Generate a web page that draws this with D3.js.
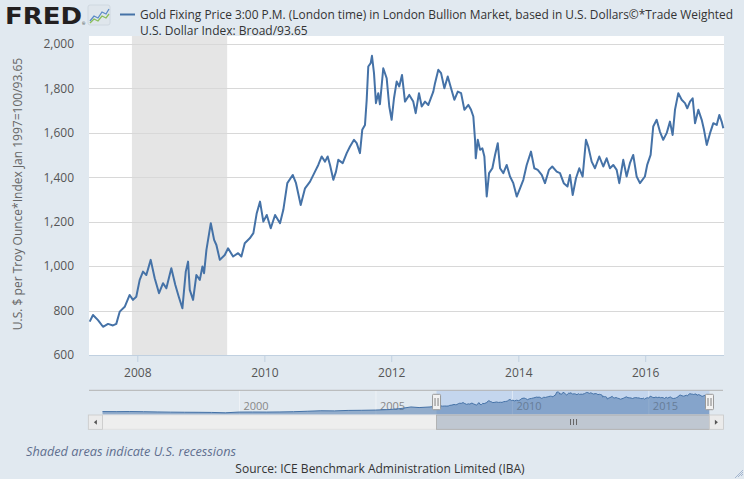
<!DOCTYPE html>
<html><head><meta charset="utf-8">
<script src="https://cdn.jsdelivr.net/npm/d3@7"></script>
<style>
body{margin:0;background:#e1e9f0;}
svg{display:block;font-family:"Open Sans",sans-serif;}
</style>
</head><body>
<svg id="c" width="744" height="479"></svg>
<script>
// ---- data (decimal year, value) ----
const dates = [2007.250,2007.302,2007.381,2007.460,2007.539,2007.617,2007.669,2007.723,2007.802,2007.880,2007.932,2007.984,
2008.038,2008.090,2008.142,2008.211,2008.274,2008.342,2008.405,2008.457,2008.535,2008.598,2008.652,2008.709,2008.762,2008.798,2008.825,2008.877,2008.929,2008.983,
2009.024,2009.050,2009.087,2009.156,2009.208,2009.244,2009.298,2009.376,2009.428,2009.507,2009.586,2009.638,2009.691,2009.770,2009.827,2009.880,2009.932,2009.984,
2010.038,2010.101,2010.169,2010.247,2010.299,2010.362,2010.447,2010.499,2010.573,2010.641,2010.720,2010.798,2010.850,2010.904,2010.956,2010.998,
2011.035,2011.087,2011.129,2011.165,2011.235,2011.298,2011.350,2011.413,2011.455,2011.507,2011.543,2011.586,2011.613,2011.638,2011.676,2011.696,2011.728,2011.759,2011.795,2011.822,2011.874,2011.928,2011.969,
2012.006,2012.043,2012.085,2012.126,2012.169,2012.216,2012.283,2012.346,2012.384,2012.436,2012.479,2012.531,2012.583,2012.661,2012.688,2012.740,2012.783,2012.835,2012.888,2012.940,2012.992,
2013.046,2013.098,2013.150,2013.213,2013.255,2013.291,2013.318,2013.329,2013.361,2013.397,2013.433,2013.465,2013.502,2013.539,2013.591,2013.633,2013.676,2013.712,2013.764,2013.817,2013.869,2013.921,2013.975,
2014.027,2014.079,2014.132,2014.200,2014.252,2014.306,2014.369,2014.420,2014.483,2014.535,2014.605,2014.657,2014.716,2014.775,2014.814,2014.857,2014.909,2014.961,
2015.014,2015.066,2015.102,2015.156,2015.208,2015.276,2015.339,2015.392,2015.444,2015.496,2015.550,2015.591,2015.654,2015.707,2015.759,2015.811,2015.865,2015.917,2015.995,
2016.031,2016.085,2016.126,2016.180,2016.231,2016.283,2016.337,2016.389,2016.431,2016.468,2016.520,2016.573,2016.625,2016.661,2016.704,2016.746,2016.783,2016.835,2016.888,2016.924,2016.967,
2017.019,2017.071,2017.124,2017.165,2017.202,2017.228];
const values = [750,780,757,727,740,733,740,795,817,870,848,862,
938,975,960,1028,945,878,923,900,990,915,862,810,975,1020,893,848,960,938,
998,968,1073,1193,1118,1095,1028,1050,1080,1043,1058,1043,1103,1125,1148,1238,1290,1200,
1230,1170,1230,1193,1253,1373,1410,1373,1275,1350,1380,1425,1455,1493,1470,1493,
1455,1388,1425,1478,1463,1508,1538,1568,1553,1508,1613,1635,1748,1898,1913,1946,1868,1733,1778,1728,1890,1845,1718,
1658,1755,1830,1808,1860,1740,1770,1740,1688,1778,1718,1740,1725,1785,1823,1883,1868,1800,1853,1800,1748,
1785,1778,1703,1725,1703,1673,1568,1485,1568,1523,1530,1493,1313,1418,1440,1500,1553,1440,1418,1455,1403,1373,1313,
1350,1388,1455,1515,1440,1433,1410,1373,1433,1448,1425,1418,1373,1358,1410,1320,1395,1440,
1403,1568,1538,1470,1440,1493,1448,1485,1440,1455,1433,1373,1478,1403,1463,1500,1403,1373,1403,
1455,1500,1628,1658,1605,1568,1598,1650,1590,1703,1778,1748,1733,1710,1740,1755,1643,1703,1658,1613,1545,
1598,1643,1635,1680,1650,1620];

// earlier history shown only in the navigator
const navDates = [1995.0,1995.5,1996.0,1996.5,1997.0,1997.5,1998.0,1998.5,1999.0,1999.5,2000.0,2000.5,2001.0,2001.5,2002.0,2002.5,2003.0,2003.5,2004.0,2004.5,2005.0,2005.5,2005.9,2006.3,2006.6,2007.0,2007.2];
const navValues = [270,265,275,260,240,225,215,210,200,170,230,235,230,240,260,300,340,330,370,380,400,440,520,660,610,660,720];

const recessions = [["2007-12-01","2009-06-01"]];
const yTicks = [600,800,1000,1200,1400,1600,1800,2000];
const xTickYears = [2008,2010,2012,2014,2016];
const navTickYears = [2000,2005,2010,2015];

const titleLine1 = "Gold Fixing Price 3:00 P.M. (London time) in London Bullion Market, based in U.S. Dollars©*Trade Weighted";
const titleLine2 = "U.S. Dollar Index: Broad/93.65";
const yTitle = "U.S. $ per Troy Ounce*Index Jan 1997=100/93.65";

// ---- helpers ----
function decToDate(d){const y=Math.floor(d);const s=new Date(y,0,1),e=new Date(y+1,0,1);return new Date(+s+(d-y)*(e-s));}
const series = dates.map((d,i)=>({date:decToDate(d),value:values[i]}));
const navSeries = navDates.map((d,i)=>({date:decToDate(d),value:navValues[i]})).concat(series);

const svg = d3.select("#c");
const W=744,H=479;
const L=89,R=724,T=36,B=355;
const lineColor="#4572a7";

// ---- scales ----
const x = d3.scaleTime().domain([decToDate(2007.239),decToDate(2017.239)]).range([L,R]);
const y = d3.scaleLinear().domain([600,2000]).range([B,43.8]);

// background
svg.append("rect").attr("width",W).attr("height",H).attr("fill","#e1e9f0");
// plot area
svg.append("rect").attr("x",L).attr("y",T).attr("width",R-L).attr("height",B-T).attr("fill","#ffffff");
// recessions
svg.append("g").selectAll("rect").data(recessions).join("rect")
  .attr("x",d=>x(new Date(d[0]))).attr("y",T)
  .attr("width",d=>x(new Date(d[1]))-x(new Date(d[0]))).attr("height",B-T)
  .attr("fill","#e5e5e5");
// gridlines
svg.append("g").selectAll("line").data(yTicks.filter(v=>v>600)).join("line")
  .attr("x1",L).attr("x2",R).attr("y1",d=>Math.round(y(d))+0.5).attr("y2",d=>Math.round(y(d))+0.5)
  .attr("stroke","#d8d8d8").attr("stroke-width",1);

// y axis
const yAxis = svg.append("g").attr("transform",`translate(${L},0)`)
  .call(d3.axisLeft(y).tickValues(yTicks).tickFormat(d3.format(",")).tickSize(0).tickPadding(15));
yAxis.select(".domain").remove();
yAxis.selectAll("text").attr("fill","#555").attr("font-size","12px").attr("font-family","'Open Sans',sans-serif").attr("dy","0.32em");

// x axis
const xAxis = svg.append("g").attr("transform",`translate(0,${B})`)
  .call(d3.axisBottom(x).tickValues(xTickYears.map(v=>new Date(v,0,1))).tickFormat(d3.timeFormat("%Y")).tickSize(7).tickPadding(6));
xAxis.select(".domain").attr("stroke","#c0d0e0").attr("d",`M${L},0.5H${R}`);
xAxis.selectAll(".tick line").attr("stroke","#c0d0e0");
xAxis.selectAll("text").attr("fill","#555").attr("font-size","12px").attr("font-family","'Open Sans',sans-serif");

// series line
svg.append("path").datum(series)
  .attr("d",d3.line().x(d=>x(d.date)).y(d=>y(d.value)))
  .attr("fill","none").attr("stroke",lineColor).attr("stroke-width",2).attr("stroke-linejoin","round");

// y title
svg.append("text").attr("transform","translate(22,194) rotate(-90)")
  .attr("text-anchor","middle").attr("font-size","12px").attr("fill","#666").text(yTitle);

// ---- header ----
svg.append("text").attr("x",5).attr("y",24).attr("font-family","'DejaVu Sans',sans-serif").attr("font-weight","bold")
  .attr("font-size","23px").attr("fill","#231f20").attr("textLength",77).attr("lengthAdjust","spacingAndGlyphs").text("FRED");
svg.append("text").attr("x",82).attr("y",25).attr("font-size","4px").attr("fill","#231f20").text("®");
// icon
const ic = svg.append("g").attr("transform","translate(88,5)");
ic.append("rect").attr("width",22).attr("height",20).attr("rx",2).attr("fill","#dfe6ec").attr("stroke","#cfd8e0");
ic.append("polyline").attr("points","2,16 6,11 10,13 14,7 18,9 21,4").attr("fill","none").attr("stroke","#5b8bc7").attr("stroke-width",1.3);
ic.append("polyline").attr("points","2,18 6,14 10,16 14,11 18,13 21,9").attr("fill","none").attr("stroke","#8bbf5b").attr("stroke-width",1.3);

// legend
svg.append("line").attr("x1",120).attr("x2",135).attr("y1",14.5).attr("y2",14.5).attr("stroke",lineColor).attr("stroke-width",2);
svg.append("text").attr("x",140).attr("y",18.5).attr("font-size","12px").attr("fill","#333")
  .attr("textLength",593).attr("lengthAdjust","spacingAndGlyphs").text(titleLine1);
svg.append("text").attr("x",140).attr("y",35).attr("font-size","12px").attr("fill","#333").text(titleLine2);

// ---- navigator ----
const NL=102.5, NR=709.5, NT=390.3, NB=414.8;
const nx = d3.scaleTime().domain([decToDate(1995.0),decToDate(2017.239)]).range([NL,NR]);
const ny = d3.scaleLinear().domain([0,1946]).range([NB,391.7]);
const selL = nx(x.domain()[0]), selR = nx(x.domain()[1]);
// selected mask
svg.append("rect").attr("x",selL).attr("y",NT).attr("width",selR-selL).attr("height",NB-NT).attr("fill","#c4d6ee");
// nav gridlines + labels
const navAxis = svg.append("g").attr("transform",`translate(0,${NB})`)
  .call(d3.axisTop(nx).tickValues(navTickYears.map(v=>new Date(v,0,1))).tickFormat(d3.timeFormat("%Y")).tickSize(NB-NT));
navAxis.select(".domain").remove();
navAxis.selectAll(".tick line").attr("stroke","#ffffff").attr("stroke-opacity",0.45);
navAxis.selectAll("text").attr("x",4).attr("y",-5).attr("text-anchor","start").attr("fill","#888").attr("font-size","11px").attr("font-family","'Open Sans',sans-serif");
// nav area
svg.append("path").datum(navSeries)
  .attr("d",d3.area().x(d=>nx(d.date)).y0(NB).y1(d=>ny(d.value)))
  .attr("fill",lineColor).attr("fill-opacity",0.5);
svg.append("path").datum(navSeries)
  .attr("d",d3.line().x(d=>nx(d.date)).y(d=>ny(d.value)))
  .attr("fill","none").attr("stroke",lineColor).attr("stroke-width",1);
// outline
svg.append("line").attr("x1",89).attr("x2",723).attr("y1",NT).attr("y2",NT).attr("stroke","#b2b2b2");
// scrollbar
const SB1=415, SB2=429.3;
svg.append("rect").attr("x",NL).attr("y",SB1).attr("width",NR-NL).attr("height",SB2-SB1).attr("fill","#eeeeee").attr("stroke","#e2e2e2");
svg.append("rect").attr("x",selL).attr("y",SB1).attr("width",selR-selL).attr("height",SB2-SB1).attr("fill","#bfc7d1").attr("stroke","#a9a9a9").attr("stroke-width",0.8);
const gx=(selL+selR)/2;
[-3,0,3].forEach(o=>svg.append("line").attr("x1",gx+o+0.5).attr("x2",gx+o+0.5).attr("y1",419).attr("y2",425).attr("stroke","#666"));
// buttons
[[88.3,"L"],[709.3,"R"]].forEach(([bx,dir])=>{
  svg.append("rect").attr("x",bx).attr("y",SB1).attr("width",14.2).attr("height",SB2-SB1).attr("fill","#ebebeb").attr("stroke","#c8c8c8").attr("stroke-width",0.8);
  const cx=bx+7.1, cy=(SB1+SB2)/2;
  const pts = dir==="L" ? `${cx+1.5},${cy-2.5} ${cx-1.5},${cy} ${cx+1.5},${cy+2.5}` : `${cx-1.5},${cy-2.5} ${cx+1.5},${cy} ${cx-1.5},${cy+2.5}`;
  svg.append("polygon").attr("points",pts).attr("fill","#555");
});
// handles
[selL,selR].forEach(hx=>{
  svg.append("rect").attr("x",hx-4).attr("y",394.3).attr("width",8).attr("height",15.4).attr("rx",1).attr("fill","#f2f2f2").attr("stroke","#999");
  [-1.5,1.5].forEach(o=>svg.append("line").attr("x1",hx+o).attr("x2",hx+o).attr("y1",398).attr("y2",406).attr("stroke","#666").attr("stroke-width",0.8));
});

// ---- footer ----
svg.append("text").attr("x",26).attr("y",456).attr("font-size","12px").attr("font-style","italic").attr("fill","#5f6f8f")
  .attr("textLength",210).attr("lengthAdjust","spacingAndGlyphs").text("Shaded areas indicate U.S. recessions");
svg.append("text").attr("x",380).attr("y",473).attr("text-anchor","middle").attr("font-size","12px").attr("fill","#333")
  .text("Source: ICE Benchmark Administration Limited (IBA)");
// resize grip
[[741,476,743,474],[738,477,743,472],[735,478,743,470]].forEach(([a,b,c,d])=>svg.append("line").attr("x1",a).attr("y1",b).attr("x2",c).attr("y2",d).attr("stroke","#8aa0c0").attr("stroke-width",0.7));
</script>
</body></html>
